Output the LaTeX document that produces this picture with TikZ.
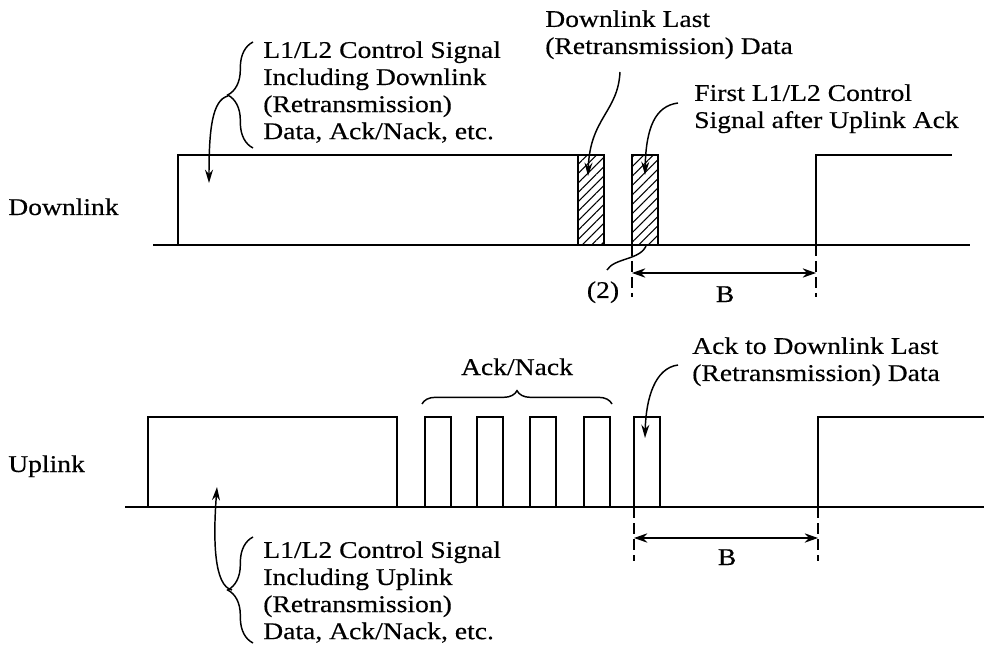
\documentclass[tikz,border=0pt]{standalone}
\usepackage{fontspec}
\setmainfont[FakeStretch=1.15,FakeBold=0.4]{Liberation Serif}
\usetikzlibrary{positioning,arrows.meta,decorations.pathreplacing,patterns.meta}

\begin{document}
\begin{tikzpicture}[x=0.75pt,y=-0.75pt,
  txt/.style={font=\fontsize{18}{20.3}\selectfont, inner sep=0pt, align=left},
  base/.style={line width=1.8pt},
  pulse/.style={line width=2.2pt},
  hatch/.style={pulse, pattern={Lines[angle=45,distance=5pt,line width=0.8pt]}},
  lead/.style={line width=1.1pt, -{Stealth[length=10pt,width=6pt]}},
  span/.style={line width=1.2pt, {Stealth[length=10pt,width=7pt]}-{Stealth[length=10pt,width=7pt]}},
  guide/.style={line width=1.5pt, dash pattern=on 8pt off 4pt},
  brc/.style={line width=1.1pt, decorate, decoration={brace,amplitude=#1}}
]
\useasboundingbox (0,0) rectangle (984,648);

%%% Downlink
\node[txt, anchor=base west] (dl) at (8,215) {Downlink};
\draw[base] (153,245) -- (970,245);
\draw[pulse] (178,245) rectangle (578,155);
\draw[hatch] (578,245) rectangle (604,155);
\draw[hatch] (632,245) rectangle (658,155);
\draw[pulse] (816,245) |- (952,155);

%% B
\draw[guide] (632,245) -- (632,297);
\draw[guide] (816,245) -- (816,297);
\coordinate (dlB1) at (632,273);
\coordinate (dlB2) at (816,273);
\draw[span] (dlB1) -- (dlB2);
\node[txt, anchor=base] (dlB) at (725,302) {B};

%% (2)
\node[txt, anchor=base] (two) at (603,298) {(2)};
\coordinate (twoend) at (646,246);
\draw[line width=1.1pt] (607,270) .. controls (614,258) and (640,260) .. (twoend);

%% labels
\node[txt, anchor=north west] (dlctl) at (263,41)
  {L1/L2 Control Signal\\Including Downlink\\(Retransmission)\\Data, Ack/Nack, etc.};
\draw[brc=19pt] (253,148) -- (253,42);
\coordinate (dltip) at (228,96);
\coordinate (dlbox) at (209,183);
\draw[lead] (dltip) .. controls (212,100) and (209,130) .. (dlbox);

\node[txt, anchor=north west] (dllast) at (545,10)
  {Downlink Last\\(Retransmission) Data};
\coordinate (dllastin) at (588,176);
\draw[lead] (620,72) .. controls (618,112) and (590,118) .. (dllastin);

\node[txt, anchor=north west] (first) at (694,84)
  {First L1/L2 Control\\Signal after Uplink Ack};
\coordinate (firstin) at (645,175);
\draw[lead] (678,103) .. controls (655,106) and (646,128) .. (firstin);

%%% Uplink
\node[txt, anchor=base west] (ul) at (8,472) {Uplink};
\draw[base] (125,507) -- (984,507);
\draw[pulse] (148,507) rectangle (397,417);
\foreach \x in {425,477,530,584}
  \draw[pulse] (\x,507) rectangle (\x+26,417);
\draw[pulse] (634,507) rectangle (660,417);
\draw[pulse] (818,507) |- (984,417);

%% B
\draw[guide] (634,507) -- (634,561);
\draw[guide] (818,507) -- (818,561);
\coordinate (ulB1) at (634,538);
\coordinate (ulB2) at (818,538);
\draw[span] (ulB1) -- (ulB2);
\node[txt, anchor=base] (ulB) at (727,565) {B};

%% labels
\node[txt, anchor=base] (acknack) at (517,375) {Ack/Nack};
\draw[brc=10pt] (422,404) -- (612,404);

\node[txt, anchor=north west] (ackdl) at (692,337)
  {Ack to Downlink Last\\(Retransmission) Data};
\coordinate (ackin) at (645,438);
\draw[lead] (678,365) .. controls (655,368) and (646,398) .. (ackin);

\node[txt, anchor=north west] (ulctl) at (263,541)
  {L1/L2 Control Signal\\Including Uplink\\(Retransmission)\\Data, Ack/Nack, etc.};
\draw[brc=19pt] (253,643) -- (253,537);
\coordinate (ultip) at (232,590);
\coordinate (ulbox) at (217,487);
\draw[lead] (ultip) .. controls (214,586) and (213,540) .. (ulbox);

\end{tikzpicture}
\end{document}
